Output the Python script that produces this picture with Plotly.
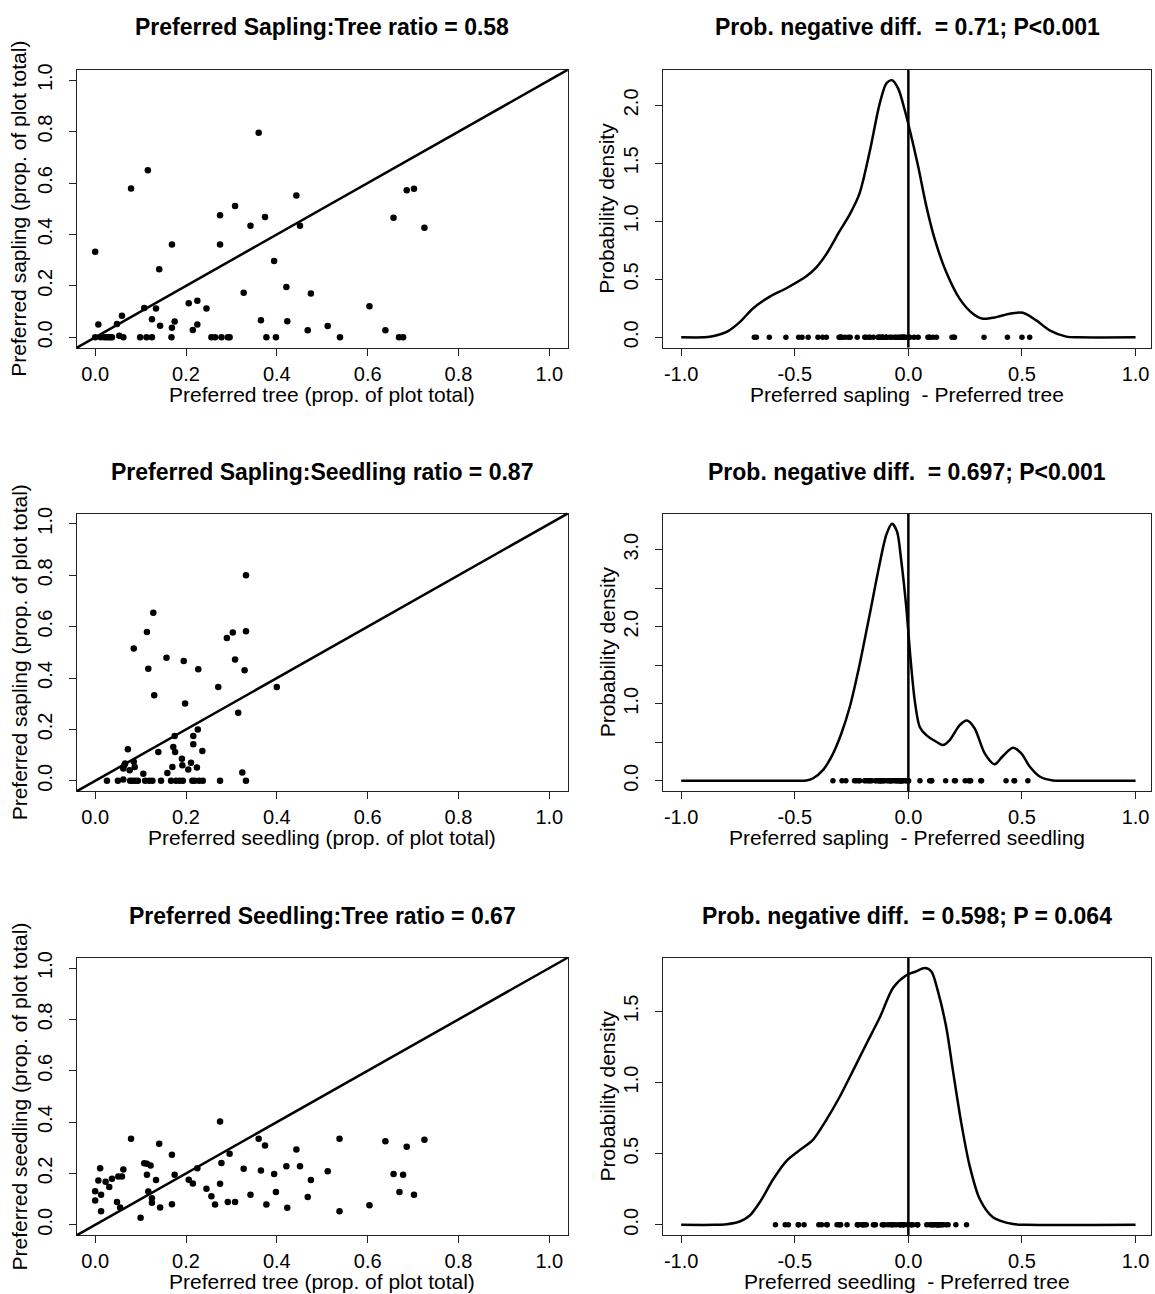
import plotly.graph_objects as go

W, H = 1155, 1294
FONT = "Liberation Sans, Arial, sans-serif"

# ---------------- data ----------------
# Panel 1: preferred tree (x) vs preferred sapling (y)
tree_a = [0.000, 0.007, 0.000, 0.012, 0.020, 0.025, 0.029, 0.034, 0.037, 0.048,
          0.053, 0.062, 0.059, 0.079, 0.099, 0.113, 0.125, 0.108, 0.116, 0.125,
          0.134, 0.141, 0.143, 0.168, 0.169, 0.169, 0.175, 0.206, 0.215, 0.225,
          0.225, 0.245, 0.256, 0.264, 0.275, 0.275, 0.278, 0.292, 0.296, 0.308,
          0.327, 0.342, 0.360, 0.365, 0.374, 0.377, 0.394, 0.398, 0.421, 0.423,
          0.443, 0.451, 0.468, 0.475, 0.512, 0.539, 0.604, 0.639, 0.657, 0.669,
          0.678, 0.686, 0.702, 0.725]
sapling_a = [0.333, 0.050, 0.000, 0.000, 0.000, 0.000, 0.000, 0.000, 0.000, 0.052,
             0.006, 0.000, 0.084, 0.579, 0.000, 0.000, 0.000, 0.114, 0.650, 0.070,
             0.112, 0.265, 0.045, 0.000, 0.361, 0.037, 0.061, 0.132, 0.028, 0.142,
             0.050, 0.112, 0.000, 0.000, 0.475, 0.361, 0.000, 0.000, 0.000, 0.511,
             0.173, 0.434, 0.796, 0.066, 0.468, 0.000, 0.297, 0.000, 0.196, 0.062,
             0.552, 0.434, 0.027, 0.170, 0.044, 0.000, 0.121, 0.027, 0.465, 0.000,
             0.000, 0.572, 0.578, 0.426]

# Panel 3: preferred seedling (x) vs preferred sapling (y)
seedling_b = [0.026, 0.050, 0.062, 0.062, 0.064, 0.066, 0.072, 0.076, 0.077, 0.082,
              0.088, 0.094, 0.085, 0.085, 0.087, 0.106, 0.110, 0.119, 0.126, 0.114,
              0.117, 0.128, 0.130, 0.139, 0.145, 0.157, 0.159, 0.167, 0.178, 0.186,
              0.193, 0.170, 0.172, 0.175, 0.176, 0.191, 0.192, 0.195, 0.198, 0.205,
              0.211, 0.214, 0.219, 0.229, 0.237, 0.216, 0.216, 0.224, 0.226, 0.227,
              0.236, 0.271, 0.275, 0.290, 0.303, 0.308, 0.315, 0.324, 0.329, 0.332,
              0.332, 0.332, 0.400]
sapling_b = [0.000, 0.000, 0.005, 0.048, 0.061, 0.067, 0.123, 0.041, 0.000, 0.000,
             0.000, 0.000, 0.515, 0.074, 0.054, 0.028, 0.000, 0.000, 0.000, 0.579,
             0.436, 0.654, 0.333, 0.112, 0.000, 0.479, 0.031, 0.000, 0.000, 0.000,
             0.000, 0.054, 0.132, 0.174, 0.112, 0.086, 0.061, 0.466, 0.301, 0.044,
             0.070, 0.000, 0.000, 0.000, 0.000, 0.174, 0.142, 0.052, 0.200, 0.434,
             0.116, 0.365, 0.000, 0.556, 0.577, 0.472, 0.265, 0.032, 0.430, 0.800,
             0.582, 0.000, 0.365]

# Panel 5: preferred tree (x) vs preferred seedling (y)
tree_c = [0.000, 0.000, 0.007, 0.011, 0.013, 0.013, 0.023, 0.031, 0.037, 0.048,
          0.051, 0.055, 0.059, 0.062, 0.079, 0.100, 0.108, 0.114, 0.114, 0.117,
          0.122, 0.125, 0.125, 0.134, 0.141, 0.143, 0.169, 0.169, 0.175, 0.206,
          0.215, 0.225, 0.245, 0.256, 0.264, 0.275, 0.275, 0.278, 0.292, 0.296,
          0.308, 0.327, 0.342, 0.360, 0.365, 0.374, 0.377, 0.394, 0.398, 0.421,
          0.423, 0.443, 0.451, 0.468, 0.475, 0.512, 0.538, 0.538, 0.604, 0.639,
          0.657, 0.670, 0.678, 0.686, 0.702, 0.725]
seedling_c = [0.131, 0.095, 0.173, 0.220, 0.117, 0.053, 0.168, 0.147, 0.179, 0.089,
              0.188, 0.067, 0.188, 0.215, 0.335, 0.027, 0.240, 0.238, 0.195, 0.130,
              0.231, 0.103, 0.086, 0.174, 0.316, 0.067, 0.273, 0.080, 0.195, 0.175,
              0.161, 0.220, 0.140, 0.111, 0.079, 0.402, 0.160, 0.241, 0.089, 0.277,
              0.089, 0.218, 0.117, 0.335, 0.211, 0.309, 0.079, 0.198, 0.128, 0.228,
              0.066, 0.293, 0.228, 0.108, 0.174, 0.209, 0.335, 0.053, 0.076, 0.325,
              0.198, 0.128, 0.195, 0.304, 0.117, 0.331]

# Density curves (value of difference, probability density)
dens_st_x = [-1.0, -0.90, -0.874, -0.80, -0.742, -0.683, -0.61, -0.537, -0.449, -0.405,
             -0.361, -0.302, -0.258, -0.214, -0.170, -0.126, -0.097, -0.072, -0.045, -0.016,
             0.006, 0.043, 0.079, 0.116, 0.167, 0.226, 0.284, 0.328, 0.387, 0.446,
             0.504, 0.563, 0.622, 0.695, 0.75, 1.0]
dens_st_y = [0.0, 0.0, 0.004, 0.046, 0.131, 0.251, 0.351, 0.423, 0.526, 0.603,
             0.717, 0.917, 1.06, 1.246, 1.603, 2.017, 2.189, 2.217, 2.146, 1.96,
             1.789, 1.474, 1.131, 0.846, 0.56, 0.331, 0.203, 0.16, 0.174, 0.203,
             0.211, 0.146, 0.06, 0.006, 0.0, 0.0]

dens_ss_x = [-1.0, -0.50, -0.449, -0.419, -0.375, -0.331, -0.295, -0.258, -0.214, -0.170,
             -0.133, -0.097, -0.072, -0.050, -0.031, -0.009, 0.009, 0.028, 0.050, 0.079,
             0.123, 0.152, 0.182, 0.226, 0.258, 0.292, 0.336, 0.380, 0.416, 0.460,
             0.497, 0.534, 0.578, 0.636, 0.70, 1.0]
dens_ss_y = [0.0, 0.0, 0.004, 0.034, 0.142, 0.357, 0.614, 0.958, 1.517, 2.162,
             2.72, 3.193, 3.335, 3.236, 2.849, 2.248, 1.603, 1.044, 0.70, 0.593,
             0.507, 0.464, 0.529, 0.722, 0.782, 0.679, 0.357, 0.215, 0.322, 0.43,
             0.357, 0.185, 0.056, 0.004, 0.0, 0.0]

dens_et_x = [-1.0, -0.85, -0.80, -0.742, -0.698, -0.654, -0.595, -0.537, -0.485, -0.419,
             -0.361, -0.302, -0.243, -0.185, -0.126, -0.067, -0.009, 0.035, 0.072, 0.101,
             0.130, 0.167, 0.196, 0.233, 0.270, 0.314, 0.372, 0.460, 0.52, 1.0]
dens_et_y = [0.0, 0.0, 0.004, 0.023, 0.065, 0.158, 0.32, 0.448, 0.517, 0.599,
             0.738, 0.90, 1.086, 1.271, 1.457, 1.666, 1.754, 1.782, 1.805, 1.782,
             1.643, 1.387, 1.086, 0.715, 0.413, 0.181, 0.053, 0.005, 0.0, 0.0]

# differences shown as dots on the density baseline
diff_st = [s - t for s, t in zip(sapling_a, tree_a)]
diff_ss = [s - e for s, e in zip(sapling_b, seedling_b)]
diff_et = [e - t for e, t in zip(seedling_c, tree_c)]

# ticks
prop_ticks = [0.0, 0.2, 0.4, 0.6, 0.8, 1.0]
prop_labels = ["0.0", "0.2", "0.4", "0.6", "0.8", "1.0"]
diff_ticks = [-1.0, -0.5, 0.0, 0.5, 1.0]
diff_labels = ["-1.0", "-0.5", "0.0", "0.5", "1.0"]
dens_st_ticks = [0.0, 0.5, 1.0, 1.5, 2.0]
dens_st_labels = ["0.0", "0.5", "1.0", "1.5", "2.0"]
dens_ss_ticks = [0.0, 0.5, 1.0, 1.5, 2.0, 2.5, 3.0]
dens_ss_labels = ["0.0", "", "1.0", "", "2.0", "", "3.0"]
dens_et_ticks = [0.0, 0.5, 1.0, 1.5]
dens_et_labels = ["0.0", "0.5", "1.0", "1.5"]

titles = ["Preferred Sapling:Tree ratio = 0.58",
          "Prob. negative diff.&nbsp; = 0.71; P<0.001",
          "Preferred Sapling:Seedling ratio = 0.87",
          "Prob. negative diff.&nbsp; = 0.697; P<0.001",
          "Preferred Seedling:Tree ratio = 0.67",
          "Prob. negative diff.&nbsp; = 0.598; P = 0.064"]
xtitles = ["Preferred tree (prop. of plot total)",
           "Preferred sapling&nbsp; - Preferred tree",
           "Preferred seedling (prop. of plot total)",
           "Preferred sapling&nbsp; - Preferred seedling",
           "Preferred tree (prop. of plot total)",
           "Preferred seedling&nbsp; - Preferred tree"]
ytitles = ["Preferred sapling (prop. of plot total)", "Probability density",
           "Preferred sapling (prop. of plot total)", "Probability density",
           "Preferred seedling (prop. of plot total)", "Probability density"]

# ---------------- layout geometry (pixels) ----------------
col_px = [(77, 567.5), (663, 1151)]
row_px = [(63.3, 342.7), (509.7, 789.0), (956.7, 1235.7)]
title_y = [20, 468, 915]
xtitle_dy = 47
ytitle_x = [19, 607]
diff_range = [-1.08, 1.068]


def fx(p):
    return p / W


def fy(p):
    return 1 - p / H


fig = go.Figure()
layout = dict(width=W, height=H, margin=dict(l=0, r=0, t=0, b=0),
              paper_bgcolor="white", plot_bgcolor="white", showlegend=False,
              font=dict(family=FONT, color="black", size=20))
shapes, annotations = [], []

scatter_sets = [(tree_a, sapling_a), (seedling_b, sapling_b), (tree_c, seedling_c)]
dens_sets = [(dens_st_x, dens_st_y, diff_st, dens_st_ticks, dens_st_labels),
             (dens_ss_x, dens_ss_y, diff_ss, dens_ss_ticks, dens_ss_labels),
             (dens_et_x, dens_et_y, diff_et, dens_et_ticks, dens_et_labels)]

LINE = "#222222"


def axis_common():
    return dict(showline=True, mirror=True, linecolor=LINE, linewidth=1,
                ticks="outside", ticklen=7, tickwidth=1, tickcolor=LINE,
                showgrid=False, zeroline=False, tickmode="array",
                ticklabeloverflow="allow",
                tickfont=dict(family=FONT, size=20, color="black"))


for r in range(3):
    for c in range(2):
        k = r * 2 + c + 1
        xn = "x" if k == 1 else f"x{k}"
        yn = "y" if k == 1 else f"y{k}"
        xa = axis_common()
        ya = axis_common()
        xa.update(domain=[fx(col_px[c][0]), fx(col_px[c][1])], anchor=yn,
                  ticklabelstandoff=1)
        ya.update(domain=[fy(row_px[r][1]), fy(row_px[r][0])], anchor=xn,
                  tickangle=-90, ticklabelstandoff=9)
        if c == 0:
            xs, ys = scatter_sets[r]
            fig.add_trace(go.Scatter(x=xs, y=ys, mode="markers",
                                     marker=dict(size=6.5, color="black"),
                                     xaxis=xn, yaxis=yn, hoverinfo="x+y"))
            xa.update(range=[-0.04, 1.04], tickvals=prop_ticks, ticktext=prop_labels)
            ya.update(range=[-0.04, 1.04], tickvals=prop_ticks, ticktext=prop_labels)
            shapes.append(dict(type="line", xref=f"{xn} domain", yref=f"{yn} domain",
                               x0=0, y0=0, x1=1, y1=1,
                               line=dict(color="black", width=2.5)))
        else:
            dx, dy, dd, yt, yl = dens_sets[r]
            fig.add_trace(go.Scatter(x=dx, y=dy, mode="lines",
                                     line=dict(color="black", width=2.5,
                                               shape="spline", smoothing=0.8),
                                     xaxis=xn, yaxis=yn, hoverinfo="x+y"))
            fig.add_trace(go.Scatter(x=dd, y=[0.0] * len(dd), mode="markers",
                                     marker=dict(size=5.5, color="black"),
                                     xaxis=xn, yaxis=yn, hoverinfo="x"))
            ymax = max(dy)
            xa.update(range=diff_range, tickvals=diff_ticks, ticktext=diff_labels)
            ya.update(range=[-0.04 * ymax, 1.04 * ymax], tickvals=yt, ticktext=yl)
            shapes.append(dict(type="line", xref=xn, yref=f"{yn} domain",
                               x0=0, x1=0, y0=0, y1=1,
                               line=dict(color="black", width=2.5)))
        layout["xaxis" if k == 1 else f"xaxis{k}"] = xa
        layout["yaxis" if k == 1 else f"yaxis{k}"] = ya

        cx = (col_px[c][0] + col_px[c][1]) / 2 if c == 0 else 907
        cy = (row_px[r][0] + row_px[r][1]) / 2
        annotations.append(dict(text=f"<b>{titles[k-1]}</b>", x=fx(cx), y=fy(title_y[r]),
                                xref="paper", yref="paper", xanchor="center", yanchor="middle",
                                showarrow=False, font=dict(family=FONT, size=23, color="black")))
        annotations.append(dict(text=xtitles[k-1], x=fx(cx),
                                y=fy(row_px[r][1] + xtitle_dy),
                                xref="paper", yref="paper", xanchor="center", yanchor="middle",
                                showarrow=False, font=dict(family=FONT, size=21, color="black")))
        annotations.append(dict(text=ytitles[k-1], x=fx(ytitle_x[c]), y=fy(cy),
                                xref="paper", yref="paper", xanchor="center", yanchor="middle",
                                textangle=-90, showarrow=False,
                                font=dict(family=FONT, size=21, color="black")))

layout["shapes"] = shapes
layout["annotations"] = annotations
fig.update_layout(**layout)

# pin the figure to the top-left corner of the page (no body margin / scrollbars)
pin_js = ("document.documentElement.style.margin='0';"
          "document.body.style.margin='0';"
          "document.documentElement.style.overflow='hidden';"
          "document.body.style.overflow='hidden';"
          "var gd=document.getElementById('{plot_id}');"
          "gd.style.position='fixed';gd.style.left='0px';gd.style.top='0px';")
fig.write_html("out.html", post_script=pin_js,
               config={"displayModeBar": False, "staticPlot": True})
